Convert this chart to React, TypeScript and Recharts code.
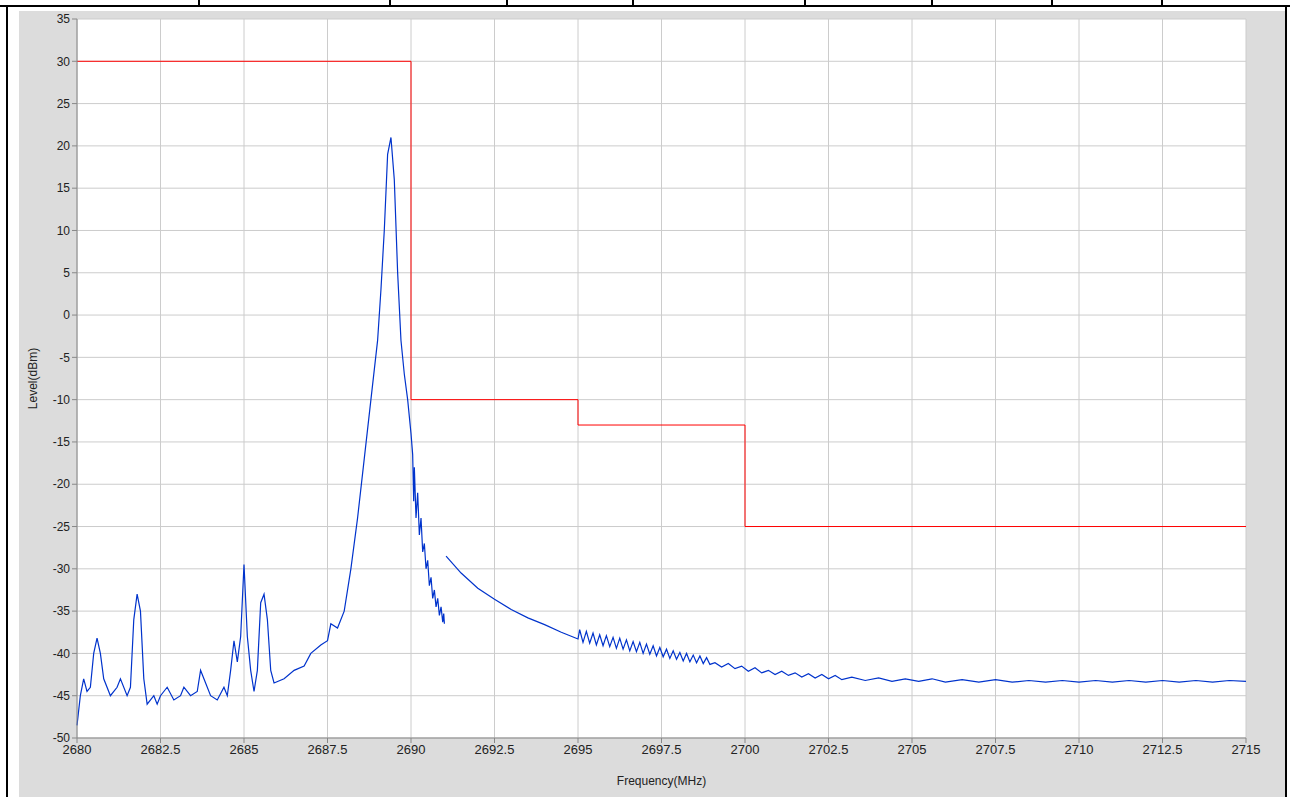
import { LineChart, Line, XAxis, YAxis, CartesianGrid } from 'recharts';

// measured trace: [frequency MHz, level dBm]; null = gap in sweep
const traceMain: [number, number | null][] = [
  [2680, -48.5], [2680.1, -45], [2680.2, -43], [2680.3, -44.5], [2680.4, -44], [2680.5, -40],
  [2680.6, -38.2], [2680.7, -40], [2680.8, -43], [2681, -45], [2681.2, -44], [2681.3, -43],
  [2681.5, -45], [2681.6, -44], [2681.7, -36], [2681.8, -33], [2681.9, -35], [2682, -43],
  [2682.1, -46], [2682.3, -45], [2682.4, -46], [2682.5, -45], [2682.7, -44], [2682.9, -45.5],
  [2683.1, -45], [2683.2, -44], [2683.4, -45], [2683.6, -44.5], [2683.7, -42], [2683.8, -43],
  [2684, -45], [2684.2, -45.5], [2684.4, -44], [2684.5, -45], [2684.6, -42], [2684.7, -38.5],
  [2684.8, -41], [2684.9, -38], [2685, -29.5], [2685.1, -38], [2685.2, -42], [2685.3, -44.5],
  [2685.4, -42], [2685.5, -34], [2685.6, -33], [2685.7, -36], [2685.8, -42], [2685.9, -43.5],
  [2686.2, -43], [2686.5, -42], [2686.8, -41.5], [2687, -40], [2687.3, -39], [2687.5, -38.5],
  [2687.6, -36.5], [2687.8, -37], [2688, -35], [2688.2, -30], [2688.4, -24], [2688.6, -17],
  [2688.8, -10], [2689, -3], [2689.1, 3], [2689.2, 10], [2689.3, 19], [2689.4, 21],
  [2689.5, 16], [2689.6, 5], [2689.7, -3], [2689.8, -7], [2689.9, -10], [2690, -14],
  [2690.05, -16.5], [2690.08, -22], [2690.1, -18], [2690.15, -24], [2690.2, -21], [2690.25, -26],
  [2690.3, -24], [2690.35, -28], [2690.4, -27], [2690.45, -30], [2690.5, -29], [2690.55, -32],
  [2690.6, -31], [2690.65, -33.5], [2690.7, -32.5], [2690.75, -34.5], [2690.8, -33.5], [2690.85, -35.5],
  [2690.9, -34.5], [2690.95, -36.3], [2690.98, -35.3], [2691, -36.5],
  [2691.03, null],
  [2691.05, -28.5], [2691.5, -30.5], [2692, -32.3], [2692.5, -33.6], [2693, -34.8], [2693.5, -35.8],
  [2694, -36.6], [2694.5, -37.5], [2695, -38.3], [2695.05, -37.2], [2695.15, -38.7], [2695.25, -37.4], [2695.35, -38.8],
  [2695.45, -37.6], [2695.55, -39], [2695.65, -37.8], [2695.75, -39.1], [2695.85, -37.9], [2695.95, -39.2],
  [2696.05, -38.1], [2696.15, -39.4], [2696.25, -38.2], [2696.35, -39.5], [2696.45, -38.4], [2696.55, -39.7],
  [2696.65, -38.6], [2696.75, -39.8], [2696.85, -38.7], [2696.95, -40], [2697.05, -38.9], [2697.15, -40.1],
  [2697.25, -39.1], [2697.35, -40.3], [2697.45, -39.3], [2697.55, -40.4], [2697.65, -39.5], [2697.75, -40.6],
  [2697.85, -39.7], [2697.95, -40.7], [2698.05, -39.9], [2698.15, -40.9], [2698.25, -40], [2698.35, -41],
  [2698.45, -40.2], [2698.55, -41.1], [2698.65, -40.3], [2698.75, -41.2], [2698.85, -40.5], [2698.95, -41.3],
  [2699.1, -41.1], [2699.3, -41.6], [2699.5, -41.2], [2699.7, -41.8], [2699.9, -41.5], [2700.1, -42.1],
  [2700.3, -41.7], [2700.5, -42.3], [2700.7, -42], [2700.9, -42.5], [2701.1, -42.1], [2701.3, -42.6],
  [2701.5, -42.3], [2701.7, -42.8], [2701.9, -42.4], [2702.1, -42.9], [2702.3, -42.5], [2702.5, -43],
  [2702.7, -42.6], [2702.9, -43.1], [2703.2, -42.8], [2703.6, -43.2], [2704, -42.9], [2704.4, -43.3],
  [2704.8, -43], [2705.2, -43.3], [2705.6, -43], [2706, -43.4], [2706.5, -43.1], [2707, -43.4],
  [2707.5, -43.1], [2708, -43.4], [2708.5, -43.2], [2709, -43.4], [2709.5, -43.2], [2710, -43.4],
  [2710.5, -43.2], [2711, -43.4], [2711.5, -43.2], [2712, -43.4], [2712.5, -43.2], [2713, -43.4],
  [2713.5, -43.2], [2714, -43.4], [2714.5, -43.2], [2715, -43.3],
];

// spectrum emission mask limit
const limitLine: [number, number][] = [
  [2680, 30], [2690, -10], [2695, -13], [2700, -25], [2715, -25],
];

const xTicks = [2680, 2682.5, 2685, 2687.5, 2690, 2692.5, 2695, 2697.5, 2700, 2702.5, 2705, 2707.5, 2710, 2712.5, 2715];
const yTicks = [35, 30, 25, 20, 15, 10, 5, 0, -5, -10, -15, -20, -25, -30, -35, -40, -45, -50];

const traceData = traceMain.map(([f, v]) => ({ f, level: v }));
const limitData = limitLine.map(([f, v]) => ({ f, limit: v }));

const topCells = [198, 389, 506, 632, 804, 931, 1051, 1161];
const font = '"Liberation Sans", Arial, sans-serif';

export default function App() {
  return (
    <div style={{ position: 'absolute', left: 0, top: 0, width: 1290, height: 797, background: '#fff', overflow: 'hidden' }}>
      <div style={{ position: 'absolute', left: 0, top: 5, width: 1290, height: 2, background: '#000' }} />
      {topCells.map((x) => (
        <div key={x} style={{ position: 'absolute', left: x, top: 0, width: 2, height: 6, background: '#000' }} />
      ))}
      <div style={{ position: 'absolute', left: 6, top: 5, width: 2, height: 792, background: '#000' }} />
      <div style={{ position: 'absolute', left: 1285, top: 5, width: 2, height: 792, background: '#000' }} />
      <div style={{ position: 'absolute', left: 19, top: 11, width: 1266, height: 786, background: '#dcdcdc' }}>
        <LineChart
          width={1266}
          height={786}
          margin={{ top: 8, right: 39, left: 0, bottom: 0 }}
          style={{ fontFamily: font }}
        >
          <CartesianGrid stroke="#cccccc" fill="#ffffff" vertical horizontal />
          <XAxis
            dataKey="f"
            type="number"
            domain={[2680, 2715]}
            ticks={xTicks}
            allowDuplicatedCategory={false}
            height={59}
            stroke="#888"
            tick={{ fill: '#222', fontSize: 13 }}
            tickSize={5}
            interval={0}
            label={{ value: 'Frequency(MHz)', position: 'insideBottom', offset: 12, fill: '#222', fontSize: 12 }}
          />
          <YAxis
            type="number"
            domain={[-50, 35]}
            ticks={yTicks}
            width={58}
            stroke="#888"
            tick={{ fill: '#222', fontSize: 12 }}
            tickSize={5}
            interval={0}
            label={{ value: 'Level(dBm)', angle: -90, position: 'insideLeft', offset: 14, fill: '#222', fontSize: 12, style: { textAnchor: 'middle' } }}
          />
          <Line
            data={limitData}
            dataKey="limit"
            type="stepAfter"
            stroke="#ff0000"
            strokeWidth={1}
            dot={false}
            isAnimationActive={false}
          />
          <Line
            data={traceData}
            dataKey="level"
            type="linear"
            stroke="#0033cc"
            strokeWidth={1.2}
            dot={false}
            connectNulls={false}
            isAnimationActive={false}
          />
        </LineChart>
      </div>
    </div>
  );
}
